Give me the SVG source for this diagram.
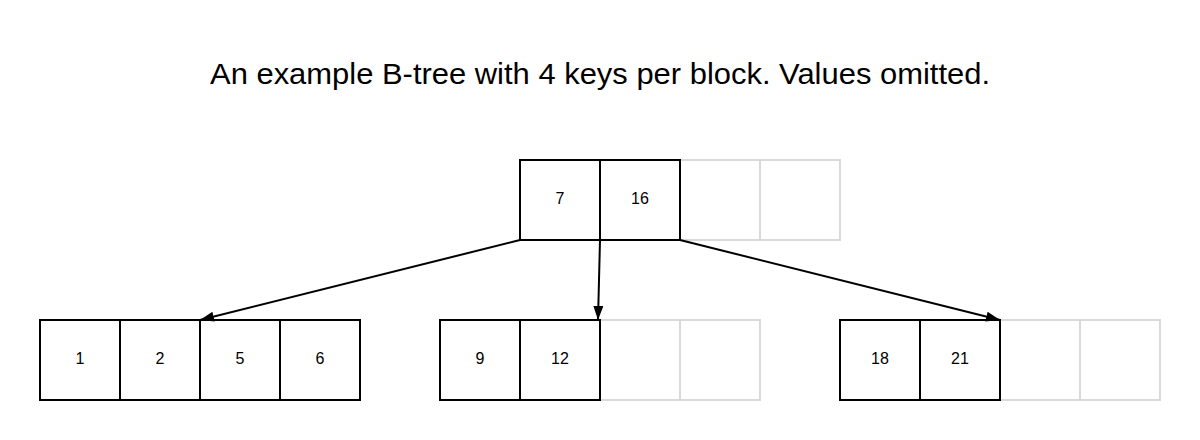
<svg xmlns="http://www.w3.org/2000/svg" width="1200" height="440" viewBox="0 0 1200 440">
<style>
.k{fill:#fff;stroke:#000;stroke-width:2}
.e{fill:#fff;stroke:#d9d9d9;stroke-width:2}
.t{font-family:"Liberation Sans",Arial,sans-serif;font-size:16px;fill:#000;text-anchor:middle}
.c{stroke:#000;stroke-width:2;fill:none}
</style>
<defs>
<marker id="a" viewBox="0 0 14 10" refX="14" refY="5" markerWidth="14" markerHeight="10" markerUnits="userSpaceOnUse" orient="auto">
<path d="M0,0 L14,5 L0,10 Z" fill="#000"/>
</marker>
</defs>
<rect width="1200" height="440" fill="#fff"/>
<text x="600" y="84" font-family="Liberation Sans,Arial,sans-serif" font-size="29" text-anchor="middle" textLength="780" lengthAdjust="spacingAndGlyphs" fill="#000">An example B-tree with 4 keys per block. Values omitted.</text>
<g id="root">
<rect class="e" x="680" y="160" width="80" height="80"/>
<rect class="e" x="760" y="160" width="80" height="80"/>
<rect class="k" x="520" y="160" width="80" height="80"/>
<rect class="k" x="600" y="160" width="80" height="80"/>
<text class="t" x="560" y="204">7</text>
<text class="t" x="640" y="204">16</text>
</g>
<g id="leaf1">
<rect class="k" x="40" y="320" width="80" height="80"/>
<rect class="k" x="120" y="320" width="80" height="80"/>
<rect class="k" x="200" y="320" width="80" height="80"/>
<rect class="k" x="280" y="320" width="80" height="80"/>
<text class="t" x="80" y="364">1</text>
<text class="t" x="160" y="364">2</text>
<text class="t" x="240" y="364">5</text>
<text class="t" x="320" y="364">6</text>
</g>
<g id="leaf2">
<rect class="e" x="600" y="320" width="80" height="80"/>
<rect class="e" x="680" y="320" width="80" height="80"/>
<rect class="k" x="440" y="320" width="80" height="80"/>
<rect class="k" x="520" y="320" width="80" height="80"/>
<text class="t" x="480" y="364">9</text>
<text class="t" x="560" y="364">12</text>
</g>
<g id="leaf3">
<rect class="e" x="1000" y="320" width="80" height="80"/>
<rect class="e" x="1080" y="320" width="80" height="80"/>
<rect class="k" x="840" y="320" width="80" height="80"/>
<rect class="k" x="920" y="320" width="80" height="80"/>
<text class="t" x="880" y="364">18</text>
<text class="t" x="960" y="364">21</text>
</g>
<g id="connectors">
<line class="c" x1="520" y1="240" x2="200" y2="320" marker-end="url(#a)"/>
<line class="c" x1="600" y1="240" x2="598" y2="320" marker-end="url(#a)"/>
<line class="c" x1="680" y1="240" x2="1000" y2="320" marker-end="url(#a)"/>
</g>
</svg>
